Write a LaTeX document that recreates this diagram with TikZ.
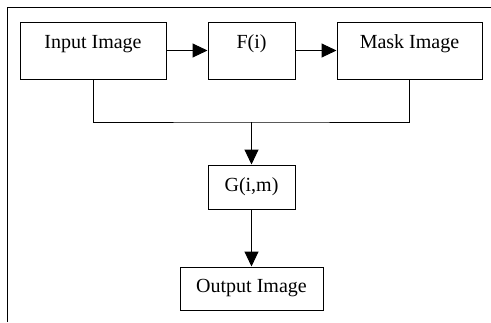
\documentclass[tikz,border=0pt]{standalone}
\usepackage{fontspec}
\setmainfont{Liberation Serif}
\usetikzlibrary{arrows.meta}
\begin{document}
\begin{tikzpicture}[x=1pt,y=-1pt,
  boxstyle/.style={draw, line width=1pt, inner sep=0pt, font=\fontsize{20}{22}\selectfont},
  topbox/.style={boxstyle, minimum width=146pt, minimum height=57pt, text height=14pt, text depth=18.4pt},
  conn/.style={line width=1pt},
  arr/.style={conn, -{Triangle[length=15pt,width=14pt]}}]
\useasboundingbox (0,0) rectangle (491,322);
\coordinate (ftl) at (7,7);
\coordinate (ftr) at (491,7);
\coordinate (fbl) at (7,322);
\draw[conn] (fbl) -- (ftl) -- (ftr);
\node[topbox] (in) at (93,50.5) {Input Image};
\node[topbox, minimum width=87pt] (f) at (251.5,50.5) {F(i)};
\node[topbox, minimum width=145pt] (mask) at (409.5,50.5) {Mask Image};
\node[boxstyle, minimum width=87pt, minimum height=44pt] (g) at (251.5,187) {G(i,m)};
\node[boxstyle, minimum width=143pt, minimum height=43pt] (out) at (251.5,288.5) {Output Image};
\coordinate (join) at (251.5,122);
\draw[arr] (in) -- (f);
\draw[arr] (f) -- (mask);
\draw[conn] (in.south) |- (join) -| (mask.south);
\draw[arr] (join) -- (g.north);
\draw[arr] (g) -- (out);
\end{tikzpicture}
\end{document}
